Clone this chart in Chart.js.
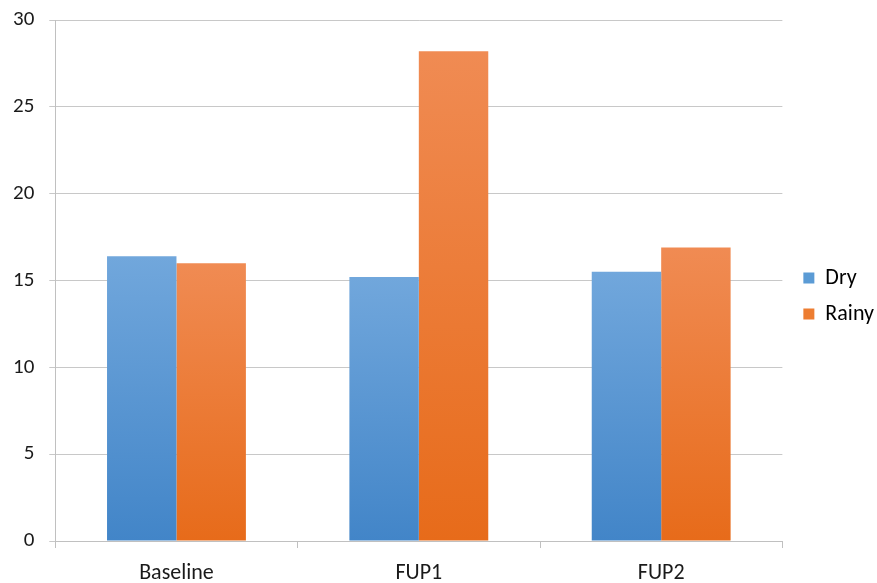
<!DOCTYPE html>
<html>
<head>
<meta charset="utf-8">
<script src="https://cdn.jsdelivr.net/npm/chart.js@4"></script>
<style>
  html, body { margin: 0; padding: 0; background: #fff; }
  #wrap { width: 877px; height: 583px; }
</style>
</head>
<body>
<div id="wrap"><canvas id="grafico" width="877" height="583"></canvas></div>
<script>
// dados
const categorias = ['Baseline', 'FUP1', 'FUP2'];
const seco = [16.4, 15.2, 15.5];
const chuvoso = [16.0, 28.2, 16.9];
const ticksY = [0, 5, 10, 15, 20, 25, 30];

const fonte = "Carlito, 'Open Sans', sans-serif";

// degradê por barra (claro em cima, escuro embaixo)
function degrade(topo, base) {
    return function (ctx) {
        const chart = ctx.chart;
        if (!chart.chartArea || ctx.raw === undefined) return base;
        const y = chart.scales.y;
        const y0 = y.getPixelForValue(ctx.raw);
        const y1 = y.getPixelForValue(0);
        const g = chart.ctx.createLinearGradient(0, y0, 0, y1);
        g.addColorStop(0, topo);
        g.addColorStop(1, base);
        return g;
    };
}

// acerta a posição da legenda (um pouco à direita, centrada perto de y=295)
const moverLegenda = {
    id: 'moverLegenda',
    afterLayout(chart) {
        const lg = chart.legend;
        if (!lg) return;
        lg.left += 7; lg.right += 7;
        lg.top = 0; lg.bottom = 592;
    }
};

const ctx = document.getElementById('grafico').getContext('2d');
new Chart(ctx, {
    type: 'bar',
    data: {
        labels: categorias,
        datasets: [
            {
                label: 'Dry',
                data: seco,
                backgroundColor: degrade('#71a7dc', '#4285c8')
            },
            {
                label: 'Rainy',
                data: chuvoso,
                backgroundColor: degrade('#f08b53', '#e76b1a')
            }
        ]
    },
    plugins: [moverLegenda],
    options: {
        responsive: false,
        animation: false,
        layout: { padding: { left: -2, top: 20, right: 0, bottom: 0 } },
        datasets: {
            bar: { categoryPercentage: 0.573, barPercentage: 1.0 }
        },
        plugins: {
            tooltip: { enabled: false },
            legend: {
                position: 'right',
                labels: {
                    boxWidth: 11,
                    boxHeight: 11,
                    padding: 14,
                    color: '#1a1a1a',
                    font: { family: fonte, size: 22 },
                    generateLabels: function (chart) {
                        const cores = ['#5b9bd5', '#ed7d31'];
                        return chart.data.datasets.map((d, i) => ({
                            text: d.label,
                            fillStyle: cores[i],
                            strokeStyle: cores[i],
                            lineWidth: 0,
                            datasetIndex: i
                        }));
                    }
                }
            }
        },
        scales: {
            x: {
                afterFit: function (axis) {
                    axis.height = 42;
                },
                grid: {
                    offset: true,
                    drawOnChartArea: false,
                    drawTicks: true,
                    tickLength: 7,
                    color: '#c0c0c0'
                },
                border: { color: '#c0c0c0' },
                ticks: {
                    color: '#1a1a1a',
                    padding: 12,
                    font: { family: fonte, size: 22 }
                }
            },
            y: {
                min: 0,
                max: 30,
                afterBuildTicks: function (axis) {
                    axis.ticks = ticksY.map(v => ({ value: v }));
                },
                afterFit: function (axis) {
                    axis.paddingTop = 0;
                },
                grid: {
                    color: '#c8c8c8',
                    tickLength: 6
                },
                border: { color: '#c0c0c0' },
                ticks: {
                    color: '#1a1a1a',
                    padding: 15,
                    font: { family: fonte, size: 21 }
                }
            }
        }
    }
});
</script>
</body>
</html>
